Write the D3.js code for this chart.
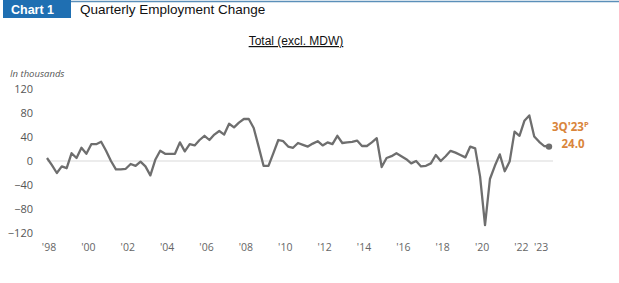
<!DOCTYPE html>
<html>
<head>
<meta charset="utf-8">
<script src="https://cdn.jsdelivr.net/npm/d3@7"></script>
<style>
  body { margin: 0; background: #fff; }
  svg { display: block; font-family: "Liberation Sans", Arial, sans-serif; }
</style>
</head>
<body>
<svg id="canvas"></svg>
<script>
// quarterly employment change, 1998Q1 .. 2023Q3 (thousands)
const startYear = 1998
const values = [
  5, -7, -20, -9, -12, 13, 5, 22, 12, 28, 28, 32,
  17, 0, -14, -14, -13, -5, -8, -1, -9, -24, 2, 17,
  12, 12, 12, 31, 16, 28, 26, 35, 42, 35, 44, 50,
  44, 62, 56, 64, 70, 70, 55, 24, -8, -8, 13, 35,
  33, 24, 22, 30, 27, 24, 29, 33, 26, 31, 28, 42,
  30, 31, 32, 34, 25, 25, 31, 38, -10, 5, 8, 13,
  8, 3, -4, 0, -9, -8, -4, 10, 0, 8, 17, 14,
  10, 6, 24, 21, -26, -107, -30, -8, 11, -17, -1, 49,
  42, 67, 76, 41, 32, 25, 24
]
const yTicks = [120, 80, 40, 0, -40, -80, -120]
const xTickYears = [1998, 2000, 2002, 2004, 2006, 2008, 2010, 2012, 2014, 2016, 2018, 2020, 2022, 2023]
const endLabel = "3Q'23"
const endValue = "24.0"

let width = 619
let height = 283

const svg = d3.select('#canvas')
  .attr('width', width)
  .attr('height', height)

// header
svg.append('line')
  .attr('x1', 70).attr('x2', width).attr('y1', 1.5).attr('y2', 1.5)
  .attr('stroke', '#5b8fb9').attr('stroke-width', 1.5)
svg.append('rect')
  .attr('x', 3).attr('y', 0).attr('width', 68).attr('height', 18)
  .attr('fill', '#1f6fb2')
svg.append('text')
  .attr('x', 11).attr('y', 14)
  .attr('fill', '#fff').attr('font-size', 12.5).attr('font-weight', 'bold')
  .text('Chart 1')
svg.append('text')
  .attr('x', 80).attr('y', 14)
  .attr('fill', '#111').attr('font-size', 13.5)
  .text('Quarterly Employment Change')

svg.append('text')
  .attr('x', 296).attr('y', 45)
  .attr('text-anchor', 'middle')
  .attr('fill', '#111').attr('font-size', 12)
  .attr('text-decoration', 'underline')
  .text('Total (excl. MDW)')

svg.append('text')
  .attr('x', 10).attr('y', 77)
  .attr('fill', '#555').attr('font-size', 9.5).attr('font-style', 'italic')
  .style('font-family', '"Open Sans", sans-serif')
  .text('In thousands')

const xScale = d3.scaleLinear()
  .domain([0, values.length - 1])
  .range([47, 549])

const yScale = d3.scaleLinear()
  .domain([-120, 120])
  .range([233, 89])

const tickFont = '"Open Sans", sans-serif'

// y axis labels
const yAxis = d3.axisLeft(yScale).tickValues(yTicks).tickSize(0).tickPadding(0)
const gy = svg.append('g')
  .attr('transform', 'translate(33, 0)')
  .call(yAxis)
gy.select('.domain').remove()
gy.selectAll('text')
  .attr('fill', '#555').attr('font-size', 11)
  .style('font-family', tickFont)

// x axis labels
const xAxis = d3.axisBottom(xScale)
  .tickValues(xTickYears.map(y => (y - startYear) * 4))
  .tickFormat(i => "'" + String(startYear + i / 4).slice(2))
  .tickSize(0).tickPadding(0)
const gx = svg.append('g')
  .attr('transform', 'translate(1.5, 244)')
  .call(xAxis)
gx.select('.domain').remove()
gx.selectAll('text')
  .attr('fill', '#666').attr('font-size', 10.5)
  .style('font-family', tickFont)

// zero line
svg.append('line')
  .attr('x1', xScale(0)).attr('x2', xScale(values.length - 1) + 4)
  .attr('y1', yScale(0)).attr('y2', yScale(0))
  .attr('stroke', '#d9d9d9').attr('stroke-width', 1)

const line = d3.line()
  .x((d, i) => xScale(i))
  .y(d => yScale(d))

svg.append('path')
  .datum(values)
  .attr('d', line)
  .attr('fill', 'none')
  .attr('stroke', '#6e6e6e')
  .attr('stroke-width', 2.3)
  .attr('stroke-linejoin', 'round')

const last = values.length - 1
svg.append('circle')
  .attr('cx', xScale(last)).attr('cy', yScale(values[last]))
  .attr('r', 3.2).attr('fill', '#6e6e6e')

// end annotation
const lab = svg.append('text')
  .attr('x', 552).attr('y', 131)
  .attr('fill', '#d9853b').attr('font-size', 11.5).attr('font-weight', 'bold')
  .style('font-family', tickFont)
lab.append('tspan').text(endLabel)
lab.append('tspan').attr('dy', -4).attr('font-size', 7.5).text('P')
svg.append('text')
  .attr('x', 573).attr('y', 148)
  .attr('text-anchor', 'middle')
  .attr('fill', '#d9853b').attr('font-size', 11.5).attr('font-weight', 'bold')
  .style('font-family', tickFont)
  .text(endValue)
</script>
</body>
</html>
